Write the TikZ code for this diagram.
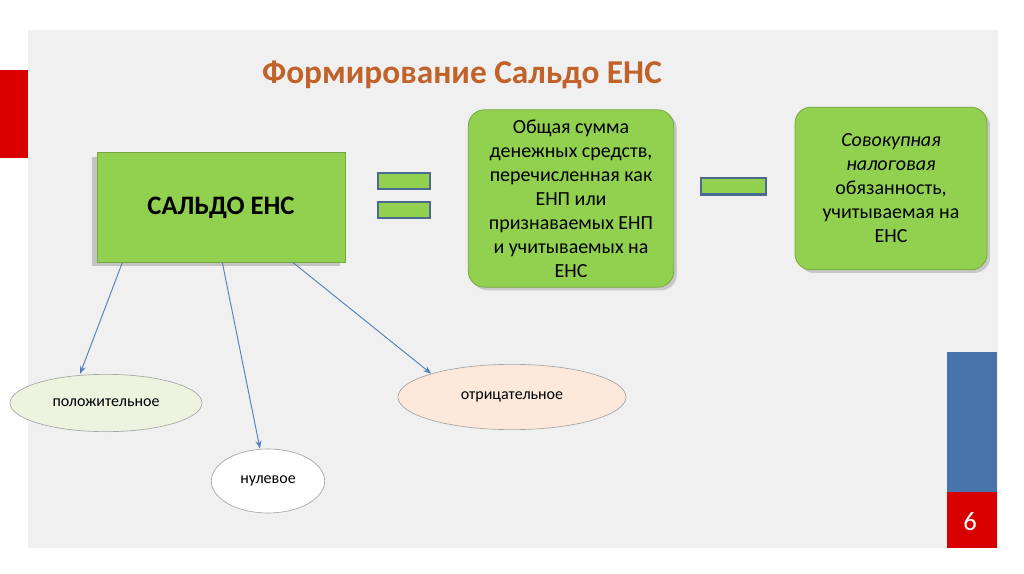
\documentclass[tikz,border=0pt]{standalone}
\usepackage{fontspec}
\setmainfont{Carlito}
\usetikzlibrary{shadows,arrows.meta,shapes.geometric}
\definecolor{gbox}{HTML}{92D050}
\definecolor{bl}{HTML}{4F81BD}
\definecolor{eqb}{HTML}{4A6A90}
\tikzset{
 gr/.style={fill=gbox,draw=gbox!80!black,line width=0.6pt},
 rb/.style={gr,rounded corners=12pt,align=center,font=\fontsize{15}{18}\selectfont,drop shadow={opacity=0.35}},
 eq/.style={fill=gbox,draw=eqb,line width=1.5pt},
 el/.style={draw=gray!70,line width=0.5pt,font=\fontsize{12}{14}\selectfont},
 ar/.style={-{Stealth[length=6pt]},draw=bl,line width=0.7pt}
}
\begin{document}
\begin{tikzpicture}[x=0.75pt,y=-0.75pt]
\useasboundingbox (0,0) rectangle (1024,574);
\fill[white] (0,0) rectangle (1024,574);
\fill[gray!12] (28,30) rectangle (998,548);
\fill[red!85!black] (0,70) rectangle (28,158);
\fill[bl!90!black] (947,352) rectangle (997,492);
\fill[red!85!black] (947,492) rectangle (997,548);
\node[text=white,font=\fontsize{20}{24}\selectfont] (pg) at (970,522) {6};
\node[text={rgb,255:red,192;green,98;blue,42},font=\bfseries\fontsize{25}{30}\selectfont] (t) at (462,75) {Формирование Сальдо ЕНС};
\node[gr,minimum width=186pt,minimum height=82pt,drop shadow={opacity=0.4,shadow xshift=-4pt,shadow yshift=-3pt},font=\bfseries\fontsize{20}{24}\selectfont] (s) at (221,207.5) {САЛЬДО ЕНС};
\node[eq,minimum width=39pt,minimum height=12pt] (e1) at (403.5,181.5) {};
\node[eq,minimum width=39pt,minimum height=12pt] (e2) at (403.5,209.5) {};
\node[rb,minimum width=154pt,minimum height=133pt] (b2) at (571,198.5) {Общая сумма\\денежных средств,\\перечисленная как\\ЕНП или\\признаваемых ЕНП\\и учитываемых на\\ЕНС};
\node[eq,minimum width=49pt,minimum height=12pt] (m) at (733.5,186.5) {};
\node[rb,minimum width=144pt,minimum height=122pt] (b3) at (891,188.5) {\textit{Совокупная}\\\textit{налоговая}\\обязанность,\\учитываемая на\\ЕНС};
\node[el,fill={rgb,255:red,238;green,243;blue,224},ellipse,minimum width=144pt,minimum height=43pt] (p) at (106,403) {положительное};
\node[el,fill=white,ellipse,minimum width=85pt,minimum height=48pt] (z) at (268,481) {нулевое};
\node[el,fill={rgb,255:red,252;green,233;blue,220},ellipse,minimum width=171pt,minimum height=49pt] (n) at (512,397) {отрицательное};
\draw[ar] ([xshift=-74pt]s.south) -- (p.north -| 80,0);
\draw[ar] ([xshift=1pt]s.south) -- (z.north -| 260,0);
\draw[ar] ([xshift=54pt]s.south) -- (n.north west);
\end{tikzpicture}
\end{document}
